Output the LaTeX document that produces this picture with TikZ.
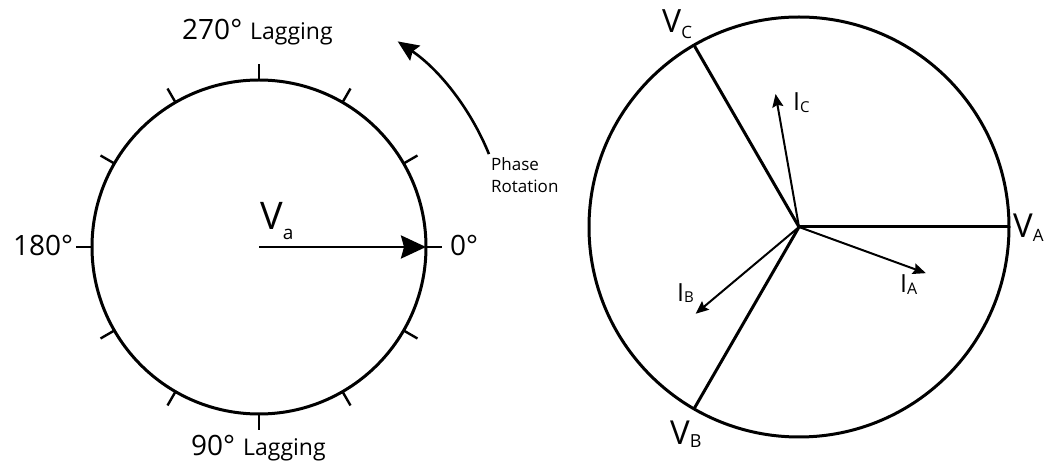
\documentclass[tikz,border=0pt]{standalone}
\usepackage{fontspec}
\setmainfont{Open Sans}
\usetikzlibrary{arrows.meta,positioning}
\newcommand{\phlbl}[5]{{\fontsize{#1}{#1}\selectfont #2}\raisebox{-#5pt}{\fontsize{#3}{#3}\selectfont #4}}

\begin{document}
\begin{tikzpicture}[x=1pt,y=1pt,
ring/.style={line width=3pt},
tickmark/.style={line width=2.4pt},
volt/.style={line width=3pt},
curr/.style={line width=2pt,-{Stealth[length=13pt,width=11pt,inset=2pt]}},
lbl/.style={inner sep=0pt,anchor=base west}]
\useasboundingbox (0,0) rectangle (1058,463);
% left dial
\coordinate (O1) at (259,216);
\draw[ring] (O1) circle (167);
\foreach \a in {0,30,...,330}
  \draw[tickmark] (O1) ++(\a:167) -- ++(\a:16);
\path (O1) ++(0:167) coordinate (Vaend);
\draw[line width=2.8pt,-{Stealth[length=25pt,width=23pt,inset=3pt]}] (O1) -- (Vaend);
\draw[line width=2.6pt,-{Stealth[length=21pt,width=18pt,inset=3pt]}] (O1) ++(22:248) arc[start angle=22,end angle=56,radius=248];
\node[lbl] (deg270) at (182,423) {{\fontsize{28}{28}\selectfont 270°}\hspace{8pt}{\fontsize{23}{23}\selectfont Lagging}};
\node[lbl] (deg90) at (191,7) {{\fontsize{28}{28}\selectfont 90°}\hspace{8pt}{\fontsize{23}{23}\selectfont Lagging}};
\node[lbl,font=\fontsize{28}{28}\selectfont] (deg180) at (13,207) {180°};
\node[lbl,font=\fontsize{28}{28}\selectfont] (deg0) at (450,207) {0°};
\node[lbl] (Va) at (260,233) {\phlbl{38}{V}{19}{a}{10}};
\node[inner sep=0pt,anchor=north west,align=left,font=\fontsize{17}{22}\selectfont] (rot) at (491,306) {Phase\\Rotation};
% right phasors
\coordinate (O2) at (799,236);
\draw[ring] (O2) circle (210);
\path (O2) ++(0:210) coordinate (VAend);
\path (O2) ++(120:210) coordinate (VCend);
\path (O2) ++(240:210) coordinate (VBend);
\draw[volt] (O2) -- (VAend);
\draw[volt] (O2) -- (VCend);
\draw[volt] (O2) -- (VBend);
\path (O2) ++(-20:135) coordinate (IAend);
\path (O2) ++(100:135) coordinate (ICend);
\path (O2) ++(220:135) coordinate (IBend);
\draw[curr] (O2) -- (IAend);
\draw[curr] (O2) -- (ICend);
\draw[curr] (O2) -- (IBend);
\node[lbl] (VA) at (1013,225) {\phlbl{33}{V}{17}{A}{4}};
\node[lbl] (VC) at (662,430) {\phlbl{32}{V}{17}{C}{6}};
\node[lbl] (VB) at (670,18) {\phlbl{33}{V}{18}{B}{3}};
\node[lbl] (IA) at (900,170) {\phlbl{25}{I}{16}{A}{2}};
\node[lbl] (IB) at (677,161) {\phlbl{25}{I}{15}{B}{1}};
\node[lbl] (IC) at (793,352) {\phlbl{25}{I}{15}{C}{2}};
\end{tikzpicture}
\end{document}
